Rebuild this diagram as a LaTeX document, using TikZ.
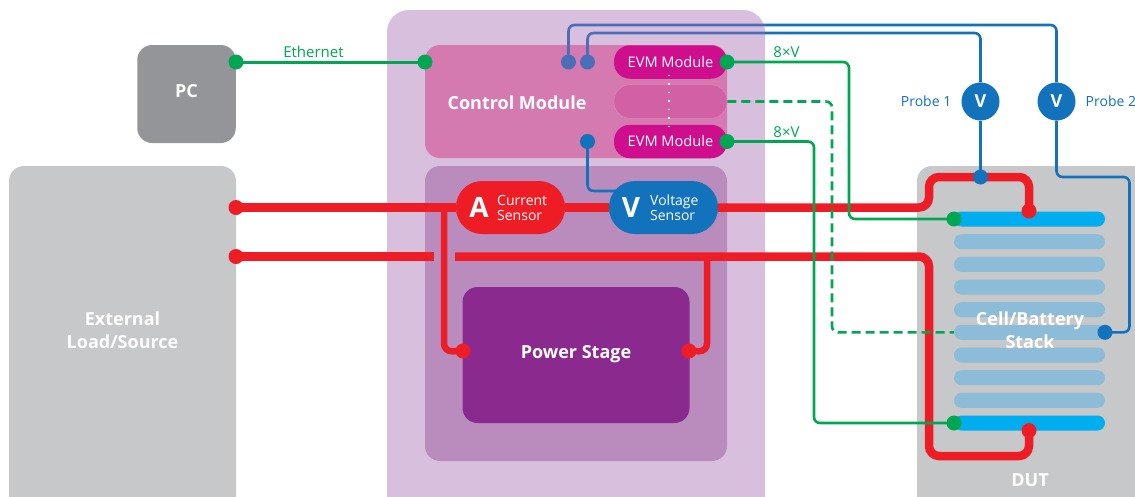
\documentclass[tikz,border=0pt]{standalone}
\usepackage{fontspec}
\setmainfont{Open Sans}
\usepackage{tikz}

\definecolor{greydut}{HTML}{C7C8CA}
\definecolor{greypc}{HTML}{939598}
\definecolor{panelbg}{HTML}{D8BFDD}
\definecolor{controlbg}{HTML}{D57AB0}
\definecolor{lowerbg}{HTML}{BA8CBE}
\definecolor{powerbg}{HTML}{8B2A8E}
\definecolor{evmbg}{HTML}{CE0E8C}
\definecolor{evmmid}{HTML}{D260A4}
\definecolor{evmedge}{HTML}{DE86BC}
\definecolor{redline}{HTML}{EE1C25}
\definecolor{greenline}{HTML}{00A651}
\definecolor{blueline}{HTML}{1272BC}
\definecolor{bluedim}{HTML}{4A6EB8}
\definecolor{barcyan}{HTML}{00AEEF}
\definecolor{barpale}{HTML}{8CBCD7}

\tikzset{
    box/.style={rectangle, inner sep=0pt, rounded corners=15pt, text=white, font=\bfseries\fontsize{18}{21}\selectfont, align=center},
    evmbox/.style={box, rounded corners=16pt, minimum width=113pt, minimum height=33.5pt, fill=evmbg, font=\fontsize{14.6}{17}\selectfont},
    sensor/.style={rectangle, inner sep=0pt, rounded corners=26pt, minimum width=109pt, minimum height=53pt},
    cellbar/.style={rectangle, inner sep=0pt, rounded corners=7.5pt, minimum width=151pt, minimum height=15pt, fill=barpale},
    dotnode/.style={circle, inner sep=0pt, minimum size=15pt},
    gdot/.style={dotnode, fill=greenline},
    rdot/.style={dotnode, fill=redline},
    bdot/.style={dotnode, fill=blueline},
    dimdot/.style={dotnode, fill=bluedim},
    probe/.style={circle, inner sep=0pt, minimum size=38pt, fill=blueline, text=white, font=\bfseries\fontsize{18}{20}\selectfont},
    whitetext/.style={text=white, inner sep=0pt, align=center, font=\bfseries\fontsize{18}{22.5}\selectfont},
    sensetext/.style={text=white, inner sep=0pt, align=left, font=\fontsize{14}{15}\selectfont},
    letter/.style={text=white, inner sep=0pt, font=\bfseries\fontsize{28}{30}\selectfont},
    greentext/.style={text=greenline, inner sep=0pt, font=\fontsize{15}{17}\selectfont},
    bluetext/.style={text=blueline, inner sep=0pt, font=\fontsize{14}{17}\selectfont},
    greenwire/.style={draw=greenline, line width=2.6pt, rounded corners=6pt},
    dashwire/.style={draw=greenline, line width=2.6pt, rounded corners=6pt, dash pattern=on 9pt off 5pt},
    redmain/.style={draw=redline, line width=8.5pt, rounded corners=10pt},
    redbranch/.style={draw=redline, line width=6.5pt, rounded corners=8pt},
    bluewire/.style={draw=blueline, line width=2.6pt, rounded corners=6pt},
    dimwire/.style={draw=bluedim, line width=2.6pt, rounded corners=6pt},
}

\begin{document}
\begin{tikzpicture}[x=1pt, y=-1pt]
    \useasboundingbox (0,0) rectangle (1135,496);

    \node[box, fill=greypc, minimum width=98.5pt, minimum height=98pt] (pc) at (186.5,94) {};
    \node[box, fill=greydut, minimum width=227pt, minimum height=370pt] (load) at (122.5,351) {};
    \node[box, fill=panelbg, rounded corners=22pt, minimum width=378pt, minimum height=530pt] (panel) at (576,275) {};
    \node[box, fill=controlbg, minimum width=302pt, minimum height=113pt] (control) at (576,101.5) {};
    \node[box, fill=lowerbg, minimum width=302pt, minimum height=295pt] (lower) at (576,313.5) {};
    \node[box, fill=powerbg, minimum width=227pt, minimum height=136pt] (power) at (576,355) {};
    \node[box, fill=greydut, minimum width=300pt, minimum height=370pt] (dut) at (1067,351) {};

    \node[whitetext] (pclabel) at (186.5,91.5) {PC};
    \node[whitetext] (loadlabel) at (122.5,330) {External\\Load/Source};
    \node[whitetext] (controllabel) at (517,103) {Control Module};
    \node[whitetext] (powerlabel) at (576,354.5) {Power Stage};

    \node[evmbox] (evmtop) at (670.5,62) {EVM Module};
    \node[evmbox, fill=evmmid, draw=evmedge, line width=0.5pt] (evmmiddle) at (670.5,101.5) {};
    \node[evmbox] (evmbot) at (670.5,141.5) {EVM Module};
    \draw[white, line width=1.5pt, dash pattern=on 1.5pt off 7pt] ([xshift=-1.5pt,yshift=4pt]evmtop.south) -- ([xshift=-1.5pt,yshift=-4pt]evmbot.north);

    \foreach \n/\y in {2/241.7, 3/264.3, 4/287, 5/309.7, 6/332.3, 7/355, 8/377.7, 9/400.3}
        \node[cellbar] (bar\n) at (1029.5,\y) {};
    \node[cellbar, fill=barcyan] (bar1) at (1029.5,219) {};
    \node[cellbar, fill=barcyan] (bar10) at (1029.5,423) {};

    \node[rdot] (loadtop) at (236,207.5) {};
    \node[rdot] (loadbot) at (236,256.5) {};
    \node[rdot] (stacktop) at (1029,211) {};
    \node[rdot] (stackbot) at (1029,430.5) {};
    \node[rdot] (powerl) at (463,351) {};
    \node[rdot] (powerr) at (689,351) {};
    \node[sensor, fill=redline] (current) at (510.5,207.5) {};
    \node[sensor, fill=blueline] (voltage) at (663.5,207.5) {};
    \node[letter] (currentletter) at (479,207.5) {A};
    \node[letter] (voltageletter) at (631,207.5) {V};
    \node[sensetext, anchor=west] (currentlabel) at (497,207.5) {Current\\Sensor};
    \node[sensetext, anchor=west] (voltagelabel) at (650,207.5) {Voltage\\Sensor};

    \coordinate (gapl) at (434,256.5);
    \coordinate (gapr) at (455,256.5);
    \coordinate (bendtop) at (929,177);
    \coordinate (bendbot) at (929,456);
    \coordinate (tapl) at (444,207.5);
    \coordinate (tapr) at (707,256.5);
    \coordinate (cornl) at (444,351.5);
    \coordinate (cornr) at (707,351.5);

    \draw[redbranch] (tapl) -- (cornl) -- (powerl.center);
    \draw[redbranch] (tapr) -- (cornr) -- (powerr.center);
    \draw[redmain] (loadtop.center) -- (current);
    \draw[redmain] (current) -- (voltage);
    \draw[redmain] (voltage.east) -| (bendtop) -| (stacktop.center);
    \draw[redmain] (loadbot.center) -- (gapl);
    \draw[redmain] (gapr) -| (bendbot) -| (stackbot.center);

    \node[gdot] (ethpc) at (236,62) {};
    \node[gdot] (ethctl) at (425,62) {};
    \node[gdot] (evmdota) at (727,62) {};
    \node[gdot] (evmdotb) at (727,141.5) {};
    \node[gdot] (celldota) at (954,219) {};
    \node[gdot] (celldotb) at (954,423) {};
    \coordinate (benda) at (849,219);
    \coordinate (bendb) at (814,423);
    \coordinate (bendc) at (832,332.3);

    \draw[draw=greenline, line width=3pt] (ethpc.center) -- (ethctl.center);
    \draw[greenwire] (evmdota.center) -| (benda) -- (celldota.center);
    \draw[greenwire] (evmdotb.center) -| (bendb) -- (celldotb.center);
    \draw[dashwire] (evmmiddle.east) -| (bendc) -- (bar6.west);

    \node[greentext] (ethlabel) at (313.5,52) {Ethernet};
    \node[greentext] (evmlabela) at (786.5,52) {8×V};
    \node[greentext] (evmlabelb) at (786.5,132) {8×V};

    \node[dimdot] (ctlprobea) at (568.5,62) {};
    \node[dimdot] (ctlprobeb) at (587.5,62) {};
    \node[bdot] (ctlvolt) at (587.5,141.5) {};
    \node[bdot] (dutprobe) at (980.5,177) {};
    \node[bdot] (stackprobe) at (1105,332.3) {};
    \node[probe] (probeone) at (980.5,101.5) {V};
    \node[probe] (probetwo) at (1056.5,101.5) {V};
    \node[bluetext, anchor=east] (probeonelabel) at (951.5,101.5) {Probe 1};
    \node[bluetext, anchor=west] (probetwolabel) at (1085.5,101.5) {Probe 2};

    \coordinate (edgea) at (765,25);
    \coordinate (edgeb) at (765,33);
    \coordinate (voltin) at (620,191);
    \coordinate (bendd) at (1129.5,177);

    \draw[bluewire] (ctlvolt.center) |- (voltin);
    \draw[dimwire] (ctlprobea.center) |- (edgea);
    \draw[dimwire] (ctlprobeb.center) |- (edgeb);
    \draw[bluewire] (edgea) -| (probetwo);
    \draw[bluewire] (edgeb) -| (probeone);
    \draw[bluewire] (probeone) -- (dutprobe.center);
    \draw[bluewire] (probetwo) |- (bendd) |- (stackprobe.center);

    \node[whitetext] (stacklabel) at (1030,330) {Cell/Battery\\Stack};
    \node[whitetext] (dutlabel) at (1030,480) {DUT};
\end{tikzpicture}
\end{document}
